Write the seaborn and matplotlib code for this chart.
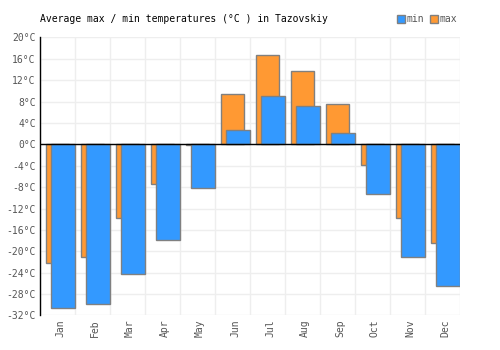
import numpy as np
import pandas as pd
import seaborn as sns
import matplotlib.pyplot as plt
from matplotlib.patches import Patch

# Dados
months = ["Jan", "Feb", "Mar", "Apr", "May", "Jun",
          "Jul", "Aug", "Sep", "Oct", "Nov", "Dec"]
t_max = [-22.1, -21.0, -13.8, -7.5, -0.2, 9.5, 16.8, 13.8, 7.5, -3.9, -13.7, -18.4]
t_min = [-30.6, -29.9, -24.3, -17.8, -8.2, 2.6, 9.0, 7.1, 2.1, -9.3, -21.0, -26.4]

blue = "#3399ff"
orange = "#ff9933"
edge = "#808080"

idx = np.arange(len(months))
df = pd.DataFrame({"month": months, "max": t_max, "min": t_min})
df["pos_max"] = idx + 0.5
df["pos_min"] = idx + 0.66

sns.set_theme(style="white")
plt.rcParams["font.family"] = ["DejaVu Sans Mono"]

fig = plt.figure(figsize=(5, 3.5), dpi=100)
ax = fig.add_axes([0.08, 0.0986, 0.84, 0.7944])

sns.barplot(data=df, x="pos_max", y="max", native_scale=True, width=0.66,
            color=orange, saturation=1, edgecolor=edge, linewidth=1, ax=ax, zorder=2)
sns.barplot(data=df, x="pos_min", y="min", native_scale=True, width=0.70,
            color=blue, saturation=1, edgecolor=edge, linewidth=1, ax=ax, zorder=3)

ax.set_xlim(0, 12)
ax.set_ylim(-32, 20)
ax.set_xticks(idx + 0.57)
ax.set_xticklabels(months, rotation=90, fontsize=7, color="#555555")
yt = np.arange(-32, 21, 4)
ax.set_yticks(yt)
ax.set_yticklabels([f"{v}°C" for v in yt], fontsize=7, color="#555555")
ax.tick_params(axis="both", length=0, pad=3)

ax.set_xticks(np.arange(0, 13), minor=True)
ax.grid(False)
ax.grid(True, axis="y", which="major", color="#eeeeee", linewidth=1, zorder=0)
ax.grid(True, axis="x", which="minor", color="#eeeeee", linewidth=1, zorder=0)
ax.tick_params(axis="x", which="minor", length=0)
ax.set_axisbelow(True)

for side in ["top", "right", "bottom"]:
    ax.spines[side].set_visible(False)
ax.spines["left"].set_color("black")
ax.spines["left"].set_linewidth(1)
ax.axhline(0, color="black", linewidth=1, zorder=4)
ax.set_xlabel("")
ax.set_ylabel("")

fig.text(0.08, 0.945, "Average max / min temperatures (°C ) in Tazovskiy",
         fontsize=7, color="black", ha="left", va="center")

handles = [Patch(facecolor=blue, edgecolor=edge, label="min"),
           Patch(facecolor=orange, edgecolor=edge, label="max")]
fig.legend(handles=handles, loc="center right", bbox_to_anchor=(0.915, 0.945),
           ncol=2, frameon=False, fontsize=7, handlelength=0.8, handleheight=0.8,
           handletextpad=0.2, columnspacing=0.6, borderaxespad=0, borderpad=0,
           labelcolor="#555555")

fig.savefig("out.png", dpi=100)
